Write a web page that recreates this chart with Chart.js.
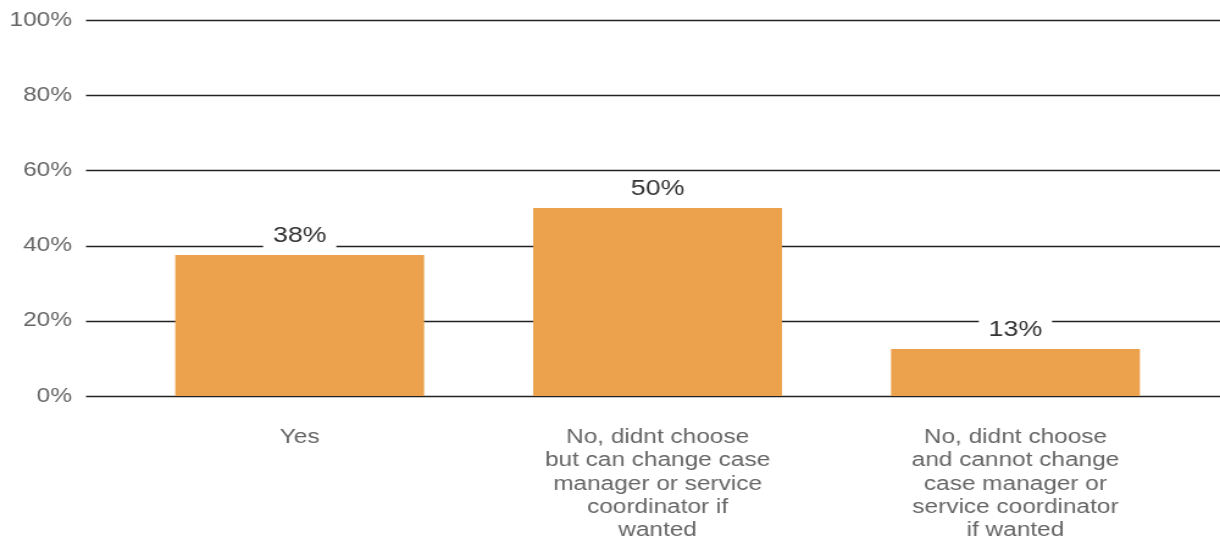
<!DOCTYPE html>
<html>
<head>
<meta charset="utf-8">
<script src="https://cdn.jsdelivr.net/npm/chart.js@4"></script>
<style>
  html, body { margin: 0; padding: 0; background: #fff; overflow: hidden; }
  #wrap { width: 1000px; height: 574px; margin-top: -32px; transform: scaleX(1.22); transform-origin: 0 0; }
</style>
</head>
<body>
<div id="wrap"><canvas id="chart"></canvas></div>
<script>
var categories = [
    'Yes',
    ['No, didnt choose', 'but can change case', 'manager or service', 'coordinator if', 'wanted'],
    ['No, didnt choose', 'and cannot change', 'case manager or', 'service coordinator', 'if wanted']
];
var values = [37.5, 50, 12.5];
var yTicks = [0, 20, 40, 60, 80, 100];

// horizontal rules run past the plot area, under the bars
var ruleLines = {
    id: 'ruleLines',
    beforeDatasetsDraw(chart) {
        var ctx = chart.ctx, y = chart.scales.y;
        ctx.save();
        ctx.strokeStyle = '#222';
        ctx.lineWidth = 1.6;
        yTicks.forEach(function(t) {
            var py = Math.round(y.getPixelForValue(t)) + 0.5;
            ctx.beginPath();
            ctx.moveTo(70.5, py);
            ctx.lineTo(chart.width, py);
            ctx.stroke();
        });
        ctx.restore();
    }
};

// value labels on a white box
var barLabels = {
    id: 'barLabels',
    afterDatasetsDraw(chart) {
        var ctx = chart.ctx;
        ctx.save();
        ctx.font = '22px "Liberation Sans", Arial, sans-serif';
        ctx.textAlign = 'center';
        ctx.textBaseline = 'middle';
        chart.getDatasetMeta(0).data.forEach(function(bar, i) {
            var txt = Math.round(values[i]) + '%';
            var w = ctx.measureText(txt).width + 16;
            var cy = bar.y - 20;
            ctx.fillStyle = '#fff';
            ctx.fillRect(bar.x - w / 2, cy - 13, w, 26);
            ctx.fillStyle = '#333';
            ctx.fillText(txt, bar.x, cy + 1);
        });
        ctx.restore();
    }
};

new Chart('chart', {
    type: 'bar',
    data: {
        labels: categories,
        datasets: [{
            data: values,
            backgroundColor: '#eca14c',
            barPercentage: 0.6955,
            categoryPercentage: 1
        }]
    },
    options: {
        responsive: true,
        maintainAspectRatio: false,
        animation: false,
        layout: { padding: { top: 0, right: 21, left: 0, bottom: 0 } },
        plugins: { legend: { display: false }, tooltip: { enabled: false } },
        scales: {
            x: {
                grid: { display: false, drawTicks: false },
                border: { display: false },
                ticks: {
                    color: '#666',
                    padding: 30,
                    maxRotation: 0,
                    autoSkip: false,
                    font: { family: '"Liberation Sans", Arial, sans-serif', size: 20, lineHeight: 1.16 }
                },
                afterFit(s) { s.height = 146; }
            },
            y: {
                min: 0,
                max: 100,
                grid: { display: false, drawTicks: false },
                border: { display: false },
                ticks: {
                    stepSize: 20,
                    color: '#666',
                    padding: 40,
                    font: { family: '"Liberation Sans", Arial, sans-serif', size: 20 },
                    callback: function(v) { return v + '%'; }
                },
                afterFit(s) { s.width = 99; }
            }
        }
    },
    plugins: [ruleLines, barLabels]
});
</script>
</body>
</html>
